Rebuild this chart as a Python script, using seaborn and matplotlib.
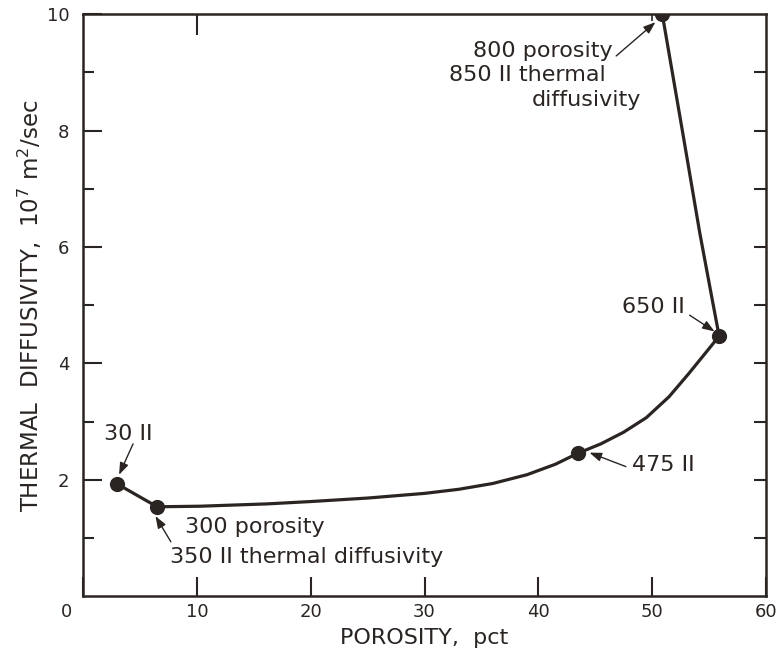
import matplotlib
matplotlib.use("Agg")
import matplotlib.pyplot as plt
import matplotlib.transforms as mtransforms
import seaborn as sns
import pandas as pd

# Measured states: porosity (pct) and thermal diffusivity (10^7 m^2/sec)
point_porosity = [3.0, 6.5, 43.5, 55.9, 50.9]
point_diffusivity = [1.93, 1.54, 2.46, 4.47, 10.0]
point_labels = ["30 II", "300 / 350 II", "475 II", "650 II", "800 / 850 II"]

# Trace of the hand-drawn curve through the measured states
curve_porosity = [3.0, 6.5, 10.3, 16.2, 20.0, 25.0, 30.0, 33.0, 36.0, 39.0,
                  41.5, 43.5, 45.5, 47.5, 49.5, 51.5, 53.2, 54.7, 55.9,
                  55.3, 54.2, 52.7, 50.9]
curve_diffusivity = [1.93, 1.54, 1.55, 1.59, 1.63, 1.69, 1.77, 1.84, 1.94, 2.09,
                     2.27, 2.46, 2.62, 2.82, 3.07, 3.43, 3.82, 4.18, 4.47,
                     5.09, 6.24, 7.96, 10.0]

x_ticks = [0, 10, 20, 30, 40, 50, 60]
y_ticks = [2, 4, 6, 8, 10]
y_minor = [1, 3, 5, 7, 9]

INK = "#2a2522"

sns.set_theme(style="ticks")
plt.rcParams["font.family"] = ["DejaVu Sans"]
plt.rcParams["mathtext.default"] = "regular"

fig = plt.figure(figsize=(7.83, 6.61), dpi=100)
ax = fig.add_axes([0.1063, 0.0976, 0.8717, 0.8812])

curve = pd.DataFrame({"porosity": curve_porosity, "diffusivity": curve_diffusivity})
points = pd.DataFrame({"porosity": point_porosity, "diffusivity": point_diffusivity,
                       "state": point_labels})

sns.lineplot(data=curve, x="porosity", y="diffusivity", sort=False, estimator=None,
             color=INK, linewidth=2.3, ax=ax, zorder=3)
sns.scatterplot(data=points, x="porosity", y="diffusivity", color=INK, s=120,
                edgecolor=INK, linewidth=0, ax=ax, zorder=4)

ax.set_xlim(0, 60)
ax.set_ylim(0, 10)

ax.set_xticks(x_ticks)
ax.set_xticklabels([str(v) for v in x_ticks])
ax.set_yticks(y_ticks)
ax.set_yticklabels([str(v) for v in y_ticks])
ax.set_yticks(y_minor, minor=True)

ax.tick_params(axis="both", which="major", direction="in", length=14, width=1.5,
               color=INK, labelcolor=INK, labelsize=13)
ax.tick_params(axis="x", which="major", pad=5)
ax.tick_params(axis="y", which="major", pad=10)
ax.tick_params(axis="y", which="minor", direction="in", length=8, width=1.5, color=INK)
ax.tick_params(axis="x", which="minor", bottom=False)

# the "0" at the origin sits left of the corner
first = ax.get_xticklabels()[0]
first.set_transform(first.get_transform() +
                    mtransforms.ScaledTranslation(-12 / 72, 0, fig.dpi_scale_trans))

# ticks on the right and top edges
right = ax.secondary_yaxis("right")
right.set_yticks(y_minor + [2, 4, 6, 8])
right.tick_params(direction="in", length=9, width=1.5, color=INK, labelright=False)
top = ax.secondary_xaxis("top")
top.set_xticks([10])
top.set_xticks([50], minor=True)
top.tick_params(which="major", direction="in", length=15, width=1.5, color=INK,
                labeltop=False)
top.tick_params(which="minor", direction="in", length=5, width=1.2, color=INK)

for sec in (right, top):
    for s in sec.spines.values():
        s.set_visible(False)
for s in ax.spines.values():
    s.set_linewidth(1.8)
    s.set_color(INK)

ax.set_xlabel("POROSITY,  pct", fontsize=16, color=INK, labelpad=5)
ax.set_ylabel("THERMAL  DIFFUSIVITY,  10$^7$ m$^2$/sec", fontsize=16.5, color=INK,
              labelpad=2)

arrow = dict(arrowstyle="-|>,head_length=0.6,head_width=0.22", color=INK, lw=1.0,
             shrinkA=0, shrinkB=0)
note = dict(fontsize=16, color=INK)

ax.annotate("", xy=(3.15, 2.09), xytext=(4.38, 2.62), arrowprops=arrow)
ax.text(3.94, 2.79, "30 II", ha="center", va="center", **note)

ax.annotate("", xy=(6.35, 1.38), xytext=(7.7, 0.94), arrowprops=arrow)
ax.text(8.96, 1.19, "300 porosity", ha="left", va="center", **note)
ax.text(7.63, 0.68, "350 II thermal diffusivity", ha="left", va="center", **note)

ax.annotate("", xy=(44.5, 2.47), xytext=(47.7, 2.23), arrowprops=arrow)
ax.text(48.2, 2.26, "475 II", ha="left", va="center", **note)

ax.annotate("", xy=(55.5, 4.55), xytext=(53.3, 4.83), arrowprops=arrow)
ax.text(52.9, 4.97, "650 II", ha="right", va="center", **note)

ax.annotate("", xy=(50.3, 9.86), xytext=(46.85, 9.28), arrowprops=arrow)
ax.text(46.5, 9.37, "800 porosity", ha="right", va="center", **note)
ax.text(45.95, 8.95, "850 II thermal", ha="right", va="center", **note)
ax.text(49.0, 8.52, "diffusivity", ha="right", va="center", **note)

fig.savefig("out.png", dpi=100, facecolor="white")
